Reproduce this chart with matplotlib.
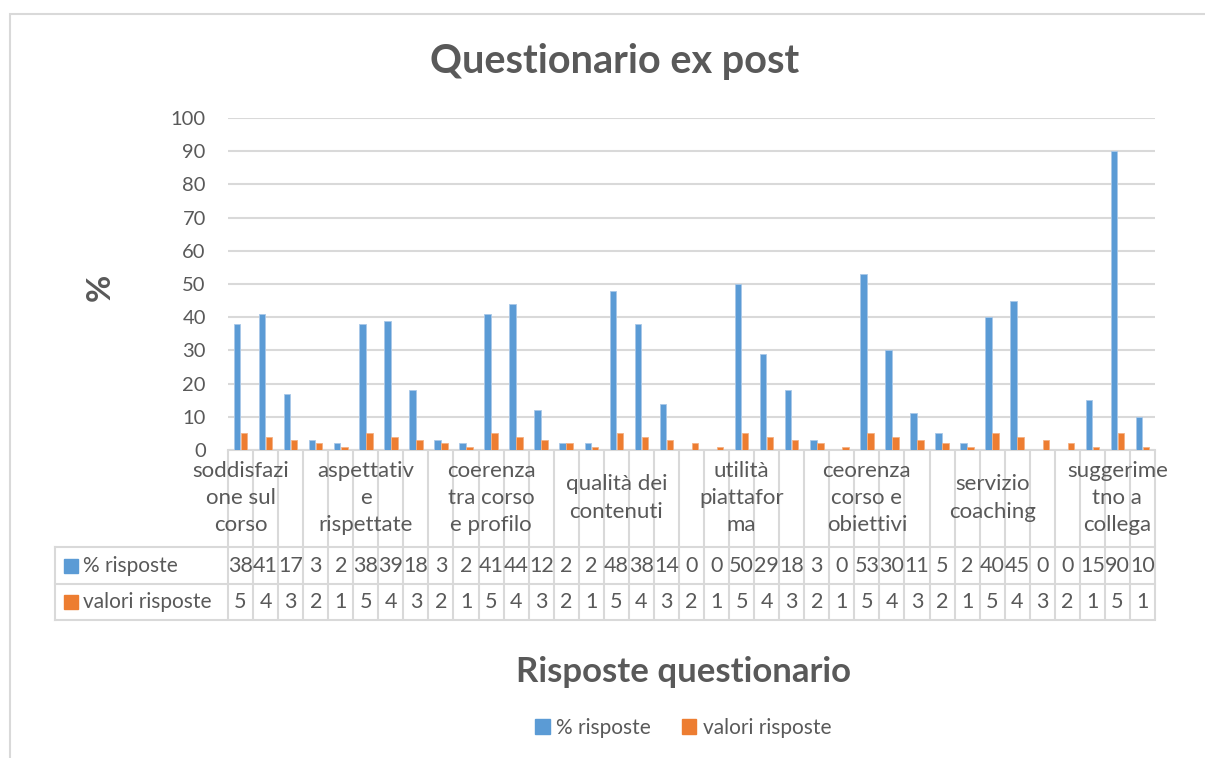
import numpy as np
import matplotlib
matplotlib.use("Agg")
import matplotlib.pyplot as plt
from matplotlib.patches import Patch, Rectangle
from matplotlib.transforms import blended_transform_factory

# dati
categorie = ["soddisfazi\none sul\ncorso", "aspettativ\ne\nrispettate",
             "coerenza\ntra corso\ne profilo", "qualità dei\ncontenuti",
             "utilità\npiattafor\nma", "ceorenza\ncorso e\nobiettivi",
             "servizio\ncoaching", "suggerime\ntno a\ncollega"]
pos_categorie = [0, 5, 10, 15, 20, 25, 30, 35]
perc_risposte = [38, 41, 17, 3, 2, 38, 39, 18, 3, 2, 41, 44, 12, 2, 2,
                 48, 38, 14, 0, 0, 50, 29, 18, 3, 0, 53, 30, 11, 5, 2,
                 40, 45, 0, 0, 15, 90, 10]
valori_risposte = [5, 4, 3, 2, 1, 5, 4, 3, 2, 1, 5, 4, 3, 2, 1,
                   5, 4, 3, 2, 1, 5, 4, 3, 2, 1, 5, 4, 3, 2, 1,
                   5, 4, 3, 2, 1, 5, 1]
serie = ["% risposte", "valori risposte"]

plt.rcParams['font.family'] = ['Lato', 'DejaVu Sans']
BLU = "#5B9BD5"
ARANCIO = "#ED7D31"
TESTO = "#595959"
GRIGIO = "#D9D9D9"

W, H = 1205, 758
fig = plt.figure(figsize=(W / 100, H / 100), dpi=100)
# area del grafico in pixel: x 228-1155, y 118-450
ax = fig.add_axes([228 / W, 1 - 450 / H, (1155 - 228) / W, (450 - 118) / H])

x = np.arange(len(perc_risposte))
ax.bar(x - 0.14, perc_risposte, 0.26, color=BLU, edgecolor="#A9C8E8", linewidth=0.6, zorder=3)
ax.bar(x + 0.14, valori_risposte, 0.26, color=ARANCIO, edgecolor="#F4B183", linewidth=0.6, zorder=3)

ax.set_xlim(-0.5, len(x) - 0.5)
ax.set_ylim(0, 100)
ax.set_yticks(np.arange(0, 101, 10))
ax.set_xticks([])
ax.tick_params(axis='y', length=0, labelsize=14.5, labelcolor=TESTO, pad=16)
ax.grid(axis='y', color=GRIGIO, linewidth=1.5, zorder=0)
for s in ['top', 'right', 'left']:
    ax.spines[s].set_visible(False)
ax.spines['bottom'].set_color(GRIGIO)
ax.spines['bottom'].set_linewidth(1.5)

# tabella dati sotto l'asse
tr = blended_transform_factory(ax.transData, ax.transAxes)
h_ax = 450 - 118
y_r1 = -(547 - 450) / h_ax
y_r2 = -(584 - 450) / h_ax
y_r3 = -(620 - 450) / h_ax
x_left = -(228 - 55) / (1155 - 228)

ax.vlines(np.arange(len(x) + 1) - 0.5, y_r3, 0, transform=tr, colors=GRIGIO,
          linewidth=1.5, clip_on=False)
for yy in [y_r1, y_r2, y_r3]:
    ax.plot([x_left, 1], [yy, yy], transform=ax.transAxes, color=GRIGIO,
            linewidth=1.5, clip_on=False)
ax.plot([x_left, x_left], [y_r1, y_r3], transform=ax.transAxes, color=GRIGIO,
        linewidth=1.5, clip_on=False)

y_cat = -(498 - 450) / h_ax
for p, c in zip(pos_categorie, categorie):
    ax.text(p, y_cat, c, transform=tr, ha='center', va='center', fontsize=16,
            color=TESTO, linespacing=1.45, clip_on=False)

righe = [(perc_risposte, BLU, (y_r1 + y_r2) / 2), (valori_risposte, ARANCIO, (y_r2 + y_r3) / 2)]
for (vals, col, ym), nome in zip(righe, serie):
    for i, v in enumerate(vals):
        ax.text(i, ym, str(v), transform=tr, ha='center', va='center',
                fontsize=15.5, color=TESTO, clip_on=False)
    ax.add_patch(Rectangle((-(228 - 64) / 927, ym - 7 / h_ax), 14 / 927, 14 / h_ax,
                           transform=ax.transAxes, color=col, clip_on=False))
    ax.text(-(228 - 83) / 927, ym, nome, transform=ax.transAxes, ha='left',
            va='center', fontsize=15, color=TESTO, clip_on=False)

# titoli
fig.text(615 / W, 1 - 62 / H, "Questionario ex post", ha='center', va='center',
         fontsize=28.5, fontweight='bold', color=TESTO)
fig.text(683 / W, 1 - 672 / H, "Risposte questionario", ha='center', va='center',
         fontsize=25, fontweight='bold', color=TESTO)
fig.text(100 / W, 1 - 287 / H, "%", ha='center', va='center', rotation=90,
         fontsize=24, fontweight='bold', color=TESTO)

handles = [Patch(color=BLU, label=serie[0]), Patch(color=ARANCIO, label=serie[1])]
leg = fig.legend(handles=handles, loc='center', bbox_to_anchor=(683 / W, 1 - 728 / H),
                 ncol=2, frameon=False, fontsize=15, handlelength=0.7, handleheight=0.7,
                 handletextpad=0.3, columnspacing=1.5)
for t in leg.get_texts():
    t.set_color(TESTO)

# bordo del grafico
fig.patches.append(Rectangle((10 / W, -0.05), 1.1, 1 - 14 / H + 0.05,
                             transform=fig.transFigure, fill=False,
                             edgecolor=GRIGIO, linewidth=1.5))

fig.savefig("out.png", dpi=100)
